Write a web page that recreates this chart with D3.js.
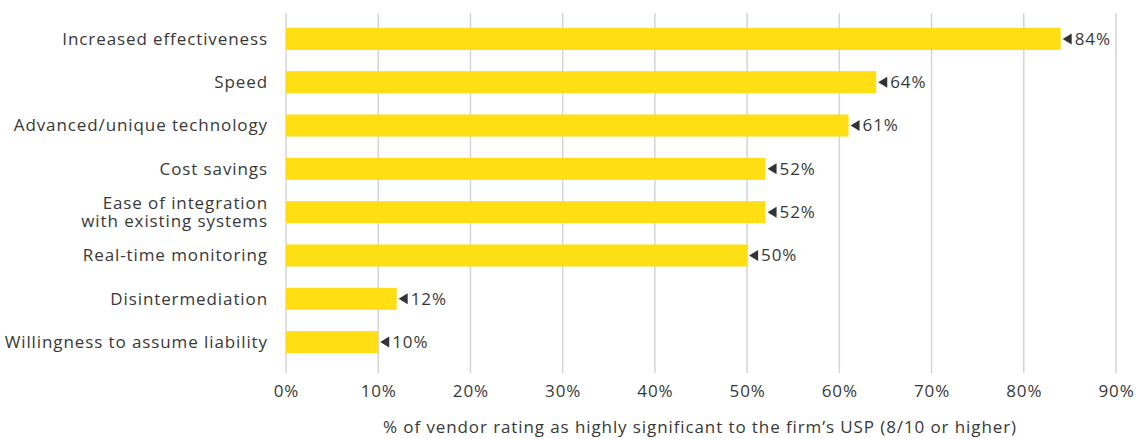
<!DOCTYPE html>
<html>
<head>
<meta charset="utf-8">
<script src="https://cdn.jsdelivr.net/npm/d3@7"></script>
<style>
  body { margin: 0; background: #fff; }
  text { font-family: "Open Sans", "Noto Sans", sans-serif; fill: #383838; }
</style>
</head>
<body>
<div id="chart"></div>
<script>
// data
var categories = [
  "Increased effectiveness",
  "Speed",
  "Advanced/unique technology",
  "Cost savings",
  "Ease of integration|with existing systems",
  "Real-time monitoring",
  "Disintermediation",
  "Willingness to assume liability"
];
var values = [84, 64, 61, 52, 52, 50, 12, 10];
var tickValues = [0, 10, 20, 30, 40, 50, 60, 70, 80, 90];
var axisTitle = "% of vendor rating as highly significant to the firm\u2019s USP (8/10 or higher)";

var margin = {top: 17, right: 24, bottom: 82, left: 286},
    width = 1140 - margin.left - margin.right,
    height = 439 - margin.top - margin.bottom;

var svg = d3.select("#chart")
  .append("svg")
    .attr("width", 1140)
    .attr("height", 439)
  .append("g")
    .attr("transform", "translate(" + margin.left + "," + margin.top + ")");

var x = d3.scaleLinear()
  .domain([0, 90])
  .range([0, 830]);

var y = d3.scaleBand()
  .domain(categories)
  .range([0, 347])
  .paddingInner(0.49)
  .paddingOuter(0.25);

// gridlines
svg.selectAll("line.grid")
  .data(tickValues)
  .enter()
  .append("line")
    .attr("class", "grid")
    .attr("x1", function(d) { return x(d); })
    .attr("x2", function(d) { return x(d); })
    .attr("y1", -4)
    .attr("y2", height + 16)
    .attr("stroke", "#d4d4d4")
    .attr("stroke-width", 1.5);

// x axis labels
var xAxis = svg.append("g")
  .attr("transform", "translate(0," + (height + 16) + ")")
  .call(d3.axisBottom(x).tickValues(tickValues).tickSize(0).tickPadding(12)
    .tickFormat(function(d) { return d + "%"; }));
xAxis.select(".domain").remove();
xAxis.selectAll("text")
  .style("font-size", "17px")
  .style("font-family", "'Open Sans', sans-serif")
  .style("letter-spacing", "0.9px")
  .attr("fill", "#383838");

// category labels
svg.selectAll("text.cat")
  .data(categories)
  .enter()
  .append("text")
    .attr("class", "cat")
    .attr("x", -18)
    .attr("y", function(d) { return y(d) + y.bandwidth() / 2; })
    .attr("text-anchor", "end")
    .style("font-size", "17px")
    .style("letter-spacing", "0.9px")
    .each(function(d) {
      var lines = d.split("|");
      var t = d3.select(this);
      lines.forEach(function(l, i) {
        t.append("tspan")
          .attr("x", -18)
          .attr("dy", i === 0 ? (0.35 - (lines.length - 1) * 0.54) + "em" : "1.08em")
          .text(l);
      });
    });

// bars
svg.selectAll("rect.bar")
  .data(values)
  .enter()
  .append("rect")
    .attr("class", "bar")
    .attr("x", x(0))
    .attr("y", function(d, i) { return y(categories[i]); })
    .attr("width", function(d) { return x(d) - x(0); })
    .attr("height", y.bandwidth())
    .attr("fill", "#FFDE14");

// value labels with marker
var lab = svg.selectAll("g.val")
  .data(values)
  .enter()
  .append("g")
    .attr("class", "val")
    .attr("transform", function(d, i) {
      return "translate(" + (x(d) + 2) + "," + (y(categories[i]) + y.bandwidth() / 2) + ")";
    });
lab.append("path")
  .attr("d", "M0,0 L9,-5.5 L9,5.5 Z")
  .attr("fill", "#333");
lab.append("text")
  .attr("x", 12)
  .attr("dy", "0.35em")
  .style("font-size", "17px")
  .style("letter-spacing", "0.9px")
  .text(function(d) { return d + "%"; });

// axis title
svg.append("text")
  .attr("x", 414)
  .attr("y", height + 76)
  .attr("text-anchor", "middle")
  .style("font-size", "17px")
  .style("letter-spacing", "0.9px")
  .text(axisTitle);
</script>
</body>
</html>
